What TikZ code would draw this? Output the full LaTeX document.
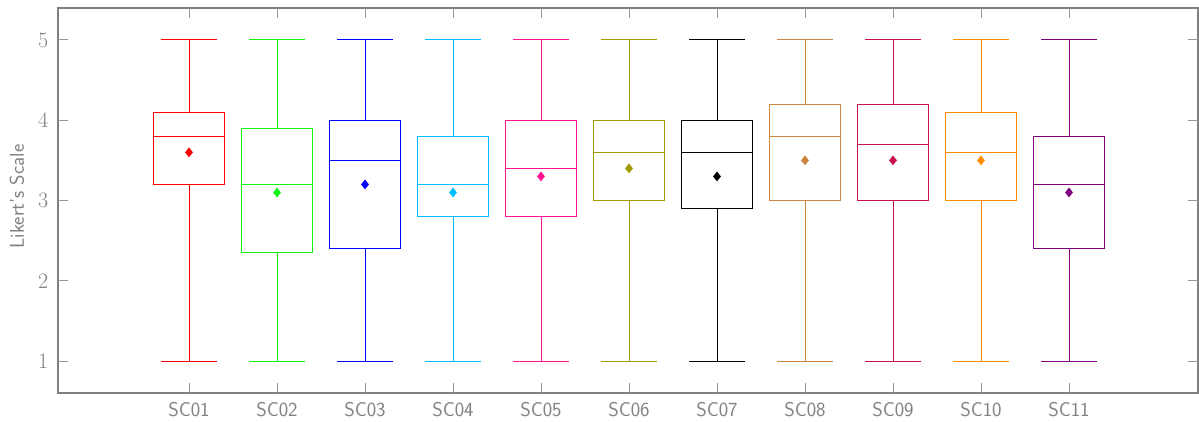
\documentclass[tikz,border=0pt]{standalone}
\usepackage{fontspec}
\setmainfont{Latin Modern Roman}
\setsansfont{Latin Modern Sans}
\usetikzlibrary{shapes.geometric}
\definecolor{axisgray}{RGB}{128,128,128}
\definecolor{tickgray}{RGB}{150,150,150}
\definecolor{cA}{RGB}{255,0,0}
\definecolor{cB}{RGB}{20,240,20}
\definecolor{cC}{RGB}{0,0,255}
\definecolor{cD}{RGB}{0,191,255}
\definecolor{cE}{RGB}{255,20,147}
\definecolor{cF}{RGB}{160,155,0}
\definecolor{cG}{RGB}{0,0,0}
\definecolor{cH}{RGB}{205,133,63}
\definecolor{cI}{RGB}{200,16,78}
\definecolor{cJ}{RGB}{255,140,0}
\definecolor{cK}{RGB}{128,0,128}
\newcommand\xlabfont{\sffamily\fontsize{20pt}{24pt}\selectfont}
\newcommand\ylabfont{\rmfamily\fontsize{22pt}{26pt}\selectfont}
\tikzset{
  frameline/.style={draw=axisgray, line width=1.1pt},
  tickline/.style={draw=tickgray, line width=1pt},
  boxline/.style={line width=1pt},
  meanmark/.style={diamond, inner sep=0pt, minimum width=8pt, minimum height=10pt},
  xlab/.style={text=axisgray, font=\xlabfont},
  ylab/.style={text=axisgray, font=\ylabfont, anchor=east},
  axtitle/.style={text=axisgray, font=\xlabfont, rotate=90}
}
\begin{document}
\begin{tikzpicture}[x=88pt,y=80.25pt]
% px x = 101 + 88 i ; px y(down) = 361 - 80.25 (v-1)
\useasboundingbox[fill=white] (-1.14773,0.25234) rectangle (12.47727,5.49844);
% frame
\draw[frameline] (-0.489,0.601) rectangle (12.466,5.399);
% y ticks
\foreach \v in {1,...,5}{
  \draw[tickline] (-0.489,\v) -- ++(10pt,0);
  \draw[tickline] (12.466,\v) -- ++(-10pt,0);
  \node[ylab] (yl\v) at (-0.56,\v) {\ylabfont\v};
}
% x ticks
\foreach \i/\lab in {1/SC01,2/SC02,3/SC03,4/SC04,5/SC05,6/SC06,7/SC07,8/SC08,9/SC09,10/SC10,11/SC11}{
  \draw[tickline] (\i,0.601) -- ++(0,10pt);
  \draw[tickline] (\i,5.399) -- ++(0,-10pt);
  \node[xlab] (xl\i) at (\i,0.39) {\xlabfont\lab};
}
\node[axtitle] (ytitle) at (-0.955,3.05) {\xlabfont Likert's Scale};
% boxes: index / q1 / median / q3 / mean / color
\foreach \i/\qa/\md/\qb/\mn/\c in {
  1/3.2/3.8/4.1/3.6/cA,
  2/2.35/3.2/3.9/3.1/cB,
  3/2.4/3.5/4.0/3.2/cC,
  4/2.8/3.2/3.8/3.1/cD,
  5/2.8/3.4/4.0/3.3/cE,
  6/3.0/3.6/4.0/3.4/cF,
  7/2.9/3.6/4.0/3.3/cG,
  8/3.0/3.8/4.2/3.5/cH,
  9/3.0/3.7/4.2/3.5/cI,
  10/3.0/3.6/4.1/3.5/cJ,
  11/2.4/3.2/3.8/3.1/cK}{
  \draw[boxline, color=\c] (\i,1) -- (\i,\qa);
  \draw[boxline, color=\c] (\i,\qb) -- (\i,5);
  \draw[boxline, color=\c] (\i-0.318,1) -- (\i+0.318,1);
  \draw[boxline, color=\c] (\i-0.318,5) -- (\i+0.318,5);
  \draw[boxline, color=\c] (\i-0.403,\qa) rectangle (\i+0.403,\qb);
  \draw[boxline, color=\c] (\i-0.403,\md) -- (\i+0.403,\md);
  \node[meanmark, fill=\c] (m\i) at (\i,\mn) {};
}
\end{tikzpicture}
\end{document}
